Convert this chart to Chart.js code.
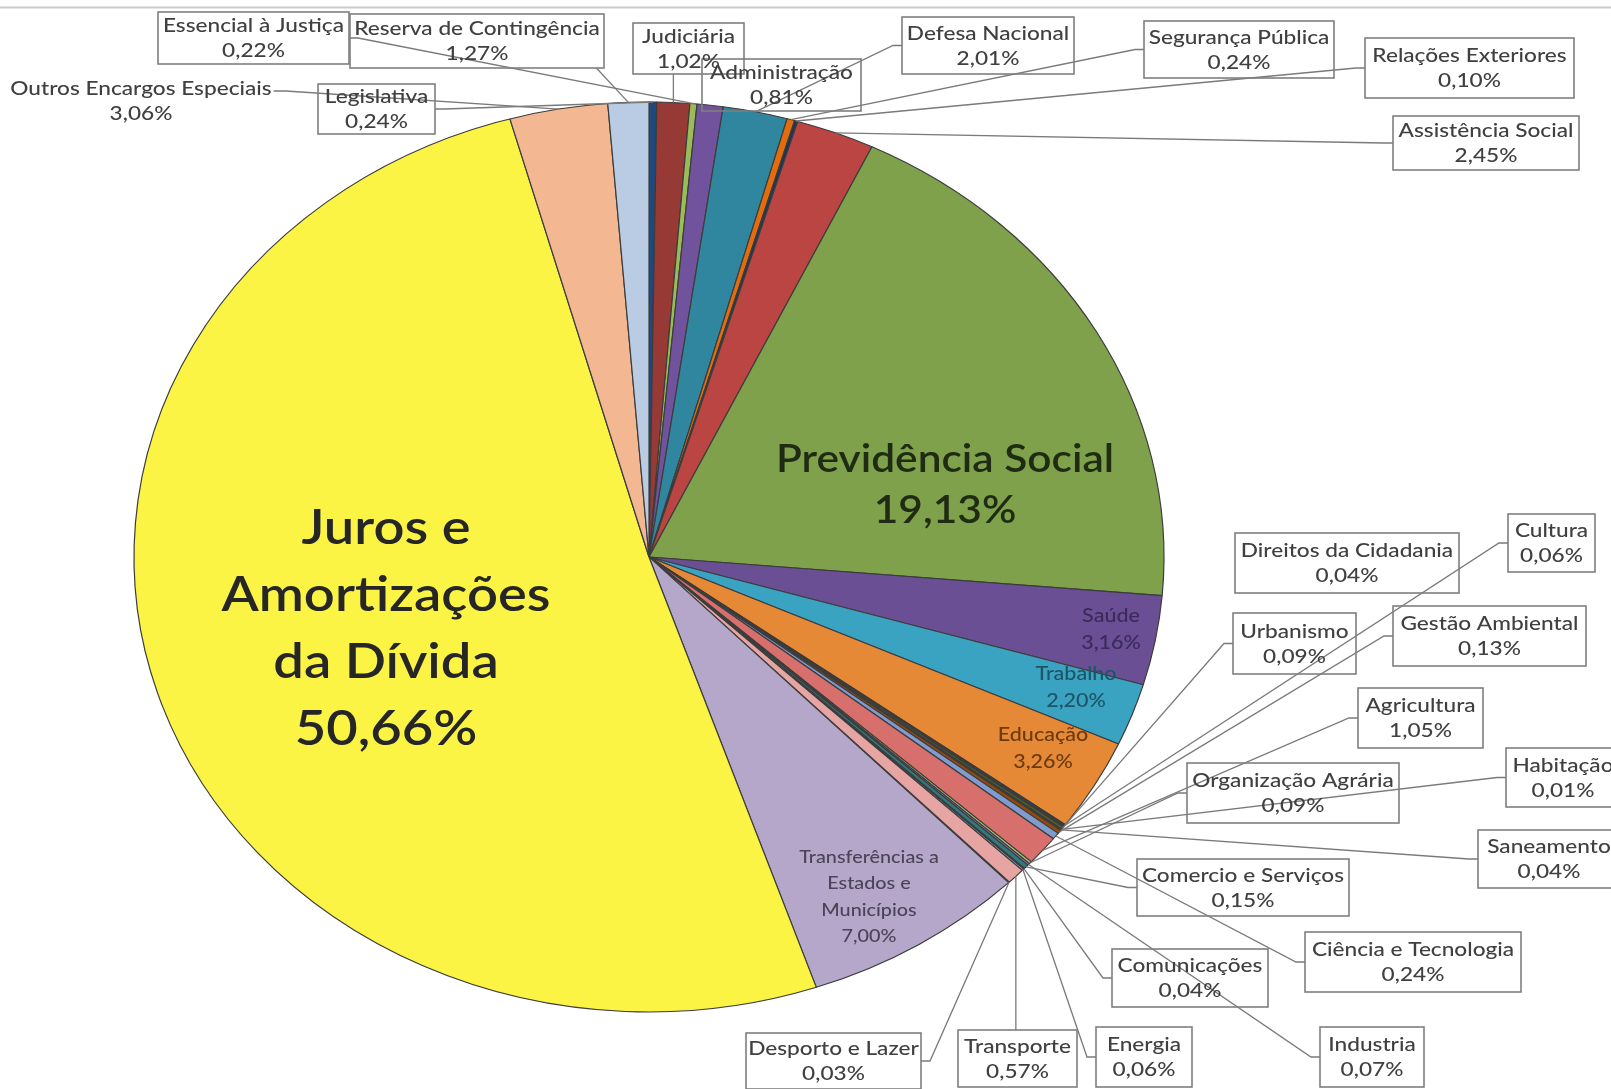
<!DOCTYPE html>
<html lang="pt-BR">
<head>
<meta charset="utf-8">
<title>Despesas por função</title>
<script src="https://cdn.jsdelivr.net/npm/chart.js@4.4.1/dist/chart.umd.min.js"></script>
<style>
  html, body { margin: 0; padding: 0; background: #fff; }
  canvas { display: block; }
</style>
</head>
<body>
<canvas id="grafico" width="1611" height="1089"></canvas>
<script>
// funções orçamentárias, na ordem em que as fatias são desenhadas (a partir do topo, sentido horário)
const funcoes = [
  "Legislativa", "Judiciária", "Essencial à Justiça", "Administração", "Defesa Nacional",
  "Segurança Pública", "Relações Exteriores", "Assistência Social", "Previdência Social", "Saúde",
  "Trabalho", "Educação", "Cultura", "Direitos da Cidadania", "Urbanismo",
  "Habitação", "Saneamento", "Gestão Ambiental", "Ciência e Tecnologia", "Agricultura",
  "Organização Agrária", "Industria", "Comercio e Serviços", "Comunicações", "Energia",
  "Transporte", "Desporto e Lazer", "Transferências a Estados e Municípios",
  "Juros e Amortizações da Dívida", "Outros Encargos Especiais", "Reserva de Contingência"
];
const percentuais = [
  0.24, 1.02, 0.22, 0.81, 2.01,
  0.24, 0.10, 2.45, 19.13, 3.16,
  2.20, 3.26, 0.06, 0.04, 0.09,
  0.01, 0.04, 0.13, 0.24, 1.05,
  0.09, 0.07, 0.15, 0.04, 0.06,
  0.57, 0.03, 7.00,
  50.66, 3.06, 1.27
];
const cores = [
  "#1f497d", "#973a36", "#9bbb59", "#71539d", "#31869f",
  "#e46c0a", "#17375e", "#bb4542", "#7fa14b", "#6b4f94",
  "#3aa3c1", "#e58937", "#254061", "#632523", "#4f6228",
  "#3f3151", "#215968", "#984807", "#7f9bcf", "#d7706d",
  "#a9c46b", "#8c72b0", "#2e7a80", "#f39b55", "#95b3d7",
  "#e6a5a3", "#d7e4bd", "#b4a7ca",
  "#fbf444", "#f3b792", "#b9cce4"
];

const ACHATAMENTO = 455 / 515; // pizza desenhada como elipse
const ESTICA = 1 / ACHATAMENTO; // textos alargados na mesma proporção
const FONTE = "Lato, 'Open Sans', sans-serif";

const fmt = (v) => v.toFixed(2).replace(".", ",") + "%";

// rótulos dentro das fatias grandes
const internos = [
  { i: 28, linhas: ["Juros e", "Amortizações", "da Dívida"], x: 386, y: 529, passo: 67, fonte: "600 48px", cor: "#262626" },
  { i: 8, linhas: ["Previdência Social"], x: 945, y: 460, passo: 51, fonte: "600 37.5px", cor: "#1f2b12" },
  { i: 9, linhas: ["Saúde"], x: 1111, y: 616, passo: 27, fonte: "500 19px", cor: "#3b2a5c" },
  { i: 10, linhas: ["Trabalho"], x: 1076, y: 674, passo: 27, fonte: "500 19px", cor: "#1d5566" },
  { i: 11, linhas: ["Educação"], x: 1043, y: 735, passo: 27, fonte: "500 19px", cor: "#6b3a0d" },
  { i: 27, linhas: ["Transferências a", "Estados e", "Municípios"], x: 869, y: 857, passo: 26.5, fonte: "500 17.5px", cor: "#4a4458" }
];

// caixas de rótulo com linha de chamada
const caixas = [
  { i: 2, x: 158, y: 12, w: 191, h: 52, lado: "right" },
  { i: 30, x: 350, y: 14, w: 254, h: 54, lado: "bottom", fx: 0.97 },
  { i: 0, x: 318, y: 84, w: 117, h: 50, lado: "right" },
  { i: 1, x: 633, y: 23, w: 111, h: 51, lado: "bottom" },
  { i: 3, x: 702, y: 59, w: 159, h: 52, lado: "none" },
  { i: 4, x: 902, y: 17, w: 172, h: 57, lado: "left" },
  { i: 5, x: 1144, y: 21, w: 190, h: 57, lado: "left" },
  { i: 6, x: 1365, y: 38, w: 209, h: 60, lado: "left" },
  { i: 7, x: 1393, y: 116, w: 186, h: 54, lado: "left" },
  { i: 12, x: 1508, y: 514, w: 87, h: 58, lado: "left" },
  { i: 13, x: 1235, y: 533, w: 224, h: 60, lado: "none" },
  { i: 14, x: 1233, y: 613, w: 123, h: 61, lado: "left" },
  { i: 17, x: 1393, y: 606, w: 193, h: 60, lado: "left" },
  { i: 19, x: 1358, y: 688, w: 125, h: 60, lado: "left" },
  { i: 20, x: 1187, y: 763, w: 212, h: 60, lado: "left" },
  { i: 15, x: 1506, y: 748, w: 114, h: 59, lado: "left" },
  { i: 16, x: 1478, y: 830, w: 142, h: 58, lado: "left" },
  { i: 22, x: 1137, y: 859, w: 212, h: 57, lado: "left" },
  { i: 18, x: 1305, y: 932, w: 216, h: 60, lado: "left" },
  { i: 23, x: 1112, y: 949, w: 156, h: 58, lado: "left" },
  { i: 21, x: 1320, y: 1027, w: 104, h: 60, lado: "left" },
  { i: 24, x: 1096, y: 1027, w: 96, h: 60, lado: "left" },
  { i: 25, x: 958, y: 1030, w: 119, h: 57, lado: "top" },
  { i: 26, x: 746, y: 1033, w: 175, h: 56, lado: "right" }
];

// rótulo sem moldura (Outros Encargos Especiais)
const soltos = [{ i: 29, x: 141, y: 89, passo: 25 }];

const clamp = (v, a, b) => Math.min(Math.max(v, a), b);

function borda(chart, i) {
  const a = chart.getDatasetMeta(0).data[i];
  const m = (a.startAngle + a.endAngle) / 2;
  return {
    x: a.x + Math.cos(m) * a.outerRadius,
    y: a.y + Math.sin(m) * a.outerRadius * ACHATAMENTO
  };
}

function caminho(c, alvo) {
  const meio = c.y + c.h / 2;
  if (c.lado === "left") return [{ x: c.x, y: meio }, { x: c.x - 9, y: meio }];
  if (c.lado === "right") return [{ x: c.x + c.w, y: meio }, { x: c.x + c.w + 9, y: meio }];
  if (c.lado === "bottom") {
    const x = c.fx != null ? c.x + c.w * c.fx : clamp(alvo.x, c.x + 6, c.x + c.w - 6);
    return [{ x, y: c.y + c.h }];
  }
  if (c.lado === "top") return [{ x: clamp(alvo.x, c.x + 6, c.x + c.w - 6), y: c.y }];
  return null;
}

// texto centrado, alargado na horizontal
function texto(ctx, t, x, y) {
  ctx.save();
  ctx.translate(x, y);
  ctx.scale(ESTICA, 1);
  ctx.fillText(t, 0, 0);
  ctx.restore();
}

const elipse = {
  id: "elipse",
  beforeDatasetsDraw(chart) {
    const a = chart.getDatasetMeta(0).data[0];
    const ctx = chart.ctx;
    ctx.save();
    ctx.translate(a.x, a.y);
    ctx.scale(1, ACHATAMENTO);
    ctx.translate(-a.x, -a.y);
  },
  afterDatasetsDraw(chart) {
    chart.ctx.restore();
  }
};

const rotulos = {
  id: "rotulos",
  afterDraw(chart) {
    const ctx = chart.ctx;
    ctx.save();
    ctx.textAlign = "center";
    ctx.textBaseline = "middle";

    // filete cinza no topo
    ctx.strokeStyle = "#cbcbcb";
    ctx.lineWidth = 2;
    ctx.beginPath();
    ctx.moveTo(0, 7.5);
    ctx.lineTo(chart.width, 7.5);
    ctx.stroke();

    // linhas de chamada
    ctx.strokeStyle = "#7a7a7a";
    ctx.lineWidth = 1.3;
    caixas.forEach((c) => {
      const alvo = borda(chart, c.i);
      const pts = caminho(c, alvo);
      if (!pts) return;
      ctx.beginPath();
      ctx.moveTo(pts[0].x, pts[0].y);
      pts.slice(1).forEach((p) => ctx.lineTo(p.x, p.y));
      ctx.lineTo(alvo.x, alvo.y);
      ctx.stroke();
    });
    ctx.font = `500 20px ${FONTE}`;
    soltos.forEach((s) => {
      const alvo = borda(chart, s.i);
      const fim = s.x + (ctx.measureText(funcoes[s.i]).width * ESTICA) / 2 + 2;
      ctx.beginPath();
      ctx.moveTo(fim, s.y + 2);
      ctx.lineTo(fim + 12, s.y + 2);
      ctx.lineTo(alvo.x, alvo.y);
      ctx.stroke();
    });

    // molduras
    ctx.strokeStyle = "#7f7f7f";
    ctx.lineWidth = 1.6;
    caixas.forEach((c) => ctx.strokeRect(c.x, c.y, c.w, c.h));

    // textos das caixas
    ctx.fillStyle = "#404040";
    caixas.forEach((c) => {
      const cx = c.x + c.w / 2;
      const cy = c.y + c.h / 2;
      texto(ctx, funcoes[c.i], cx, cy - 12);
      texto(ctx, fmt(percentuais[c.i]), cx, cy + 13);
    });
    soltos.forEach((s) => {
      texto(ctx, funcoes[s.i], s.x, s.y);
      texto(ctx, fmt(percentuais[s.i]), s.x, s.y + s.passo);
    });

    // rótulos internos
    internos.forEach((r) => {
      ctx.fillStyle = r.cor;
      ctx.font = `${r.fonte} ${FONTE}`;
      const linhas = [...r.linhas, fmt(percentuais[r.i])];
      linhas.forEach((t, k) => texto(ctx, t, r.x, r.y + k * r.passo));
    });

    ctx.restore();
  }
};

new Chart(document.getElementById("grafico"), {
  type: "pie",
  data: {
    labels: funcoes,
    datasets: [{
      data: percentuais,
      backgroundColor: cores,
      borderColor: "#3c3c3c",
      borderWidth: 1.2
    }]
  },
  options: {
    responsive: false,
    animation: false,
    radius: 515,
    layout: { padding: { left: 0, right: 313, top: 25, bottom: 0 } },
    plugins: {
      legend: { display: false },
      tooltip: { enabled: false }
    }
  },
  plugins: [elipse, rotulos]
});
</script>
</body>
</html>
